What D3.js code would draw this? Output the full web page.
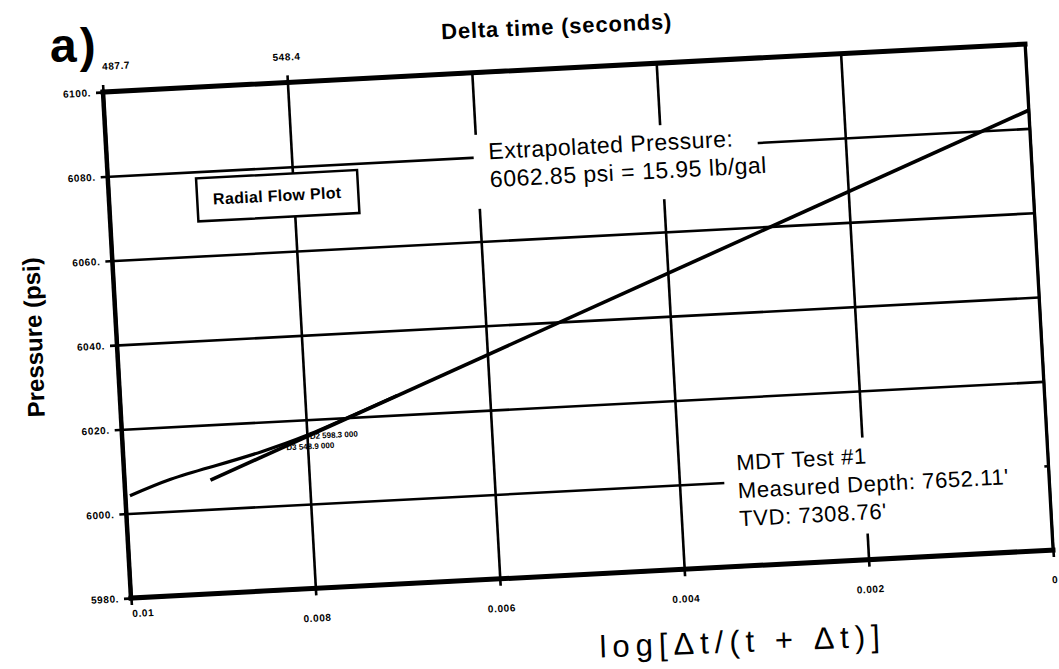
<!DOCTYPE html>
<html>
<head>
<meta charset="utf-8">
<script src="https://cdn.jsdelivr.net/npm/d3@7"></script>
<style>
  body { margin: 0; background: #fff; }
  svg { display: block; }
  text { font-family: "Liberation Sans", Arial, sans-serif; fill: #000; }
</style>
</head>
<body>
<svg id="chart" width="1059" height="669"></svg>
<script>
// axis ticks (log[dt/(t+dt)] runs from 0.01 on the left to 0 on the right)
const xTicks = [0.01, 0.008, 0.006, 0.004, 0.002, 0];
const xTickLabels = ['0.01', '0.008', '0.006', '0.004', '0.002', '0'];
const yTicks = [5980, 6000, 6020, 6040, 6060, 6080, 6100];
const yTickLabels = ['5980.', '6000.', '6020.', '6040.', '6060.', '6080.', '6100.'];
const topTicks = [0.01, 0.008];
const topTickLabels = ['487.7', '548.4'];

// measured buildup points
const dataX = [0.00995, 0.0095, 0.009, 0.0085, 0.008, 0.0075, 0.007];
const dataP = [6004.2, 6007.6, 6010.3, 6013.0, 6016.3, 6020.4, 6024.6];

// straight-line fit (radial flow)
const fitX = [0.00907, 0];
const fitP = [6006.9, 6084.3];

// small point tags
const tagX = [0.00797, 0.00823];
const tagP = [6015.4, 6013.0];
const tagText = ['D2  598.3   000', 'D3  548.9   000'];

const width = 1059, height = 669;
const W = 922, H = 506;

const svg = d3.select('#chart');
svg.append('rect').attr('width', width).attr('height', height).attr('fill', '#fff');

// the scanned page is tilted, so the plot sits in a slanted frame
const g = svg.append('g')
  .attr('transform', 'matrix(1,-0.052,0.0553,1,103,92)');

const x = d3.scaleLinear().domain([0.01, 0]).range([0, W]);
const y = d3.scaleLinear().domain([5980, 6100]).range([H, 0]);

const tickText = sel => sel.attr('font-size', '10px').attr('font-weight', 'bold')
  .attr('letter-spacing', '0.6px');

// horizontal grid + left labels
const yAxis = g.append('g')
  .attr('transform', `translate(${W},0)`)
  .call(d3.axisLeft(y).tickValues(yTicks).tickSize(W + 7).tickPadding(5)
    .tickFormat((d, i) => yTickLabels[i]));
yAxis.select('.domain').remove();
yAxis.selectAll('line').attr('stroke', '#000').attr('stroke-width', 2.6);
yAxis.selectAll('text').call(tickText);

// vertical grid + bottom labels
const xAxis = g.append('g')
  .call(d3.axisBottom(x).tickValues(xTicks).tickSize(H + 7).tickPadding(19)
    .tickFormat((d, i) => xTickLabels[i]));
xAxis.select('.domain').remove();
xAxis.selectAll('line').attr('stroke', '#000').attr('stroke-width', 2.6);
xAxis.selectAll('text').call(tickText);
xAxis.selectAll('text').filter(d => d === 0.01)
  .attr('text-anchor', 'start').attr('y', H + 12);

// top axis (delta time)
const topAxis = g.append('g')
  .call(d3.axisTop(x).tickValues(topTicks).tickSize(7).tickPadding(15)
    .tickFormat((d, i) => topTickLabels[i]));
topAxis.select('.domain').remove();
topAxis.selectAll('line').attr('stroke', '#000').attr('stroke-width', 2.6);
topAxis.selectAll('text').call(tickText);
topAxis.selectAll('text').filter(d => d === 0.01).attr('text-anchor', 'start');

// frame
const frame = [
  [0, 0, W, 0, 5], [0, H, W, H, 5], [0, 0, 0, H, 4.5], [W, 0, W, H, 3]
];
g.selectAll('line.frame').data(frame).enter().append('line')
  .attr('class', 'frame')
  .attr('x1', d => d[0]).attr('y1', d => d[1])
  .attr('x2', d => d[2]).attr('y2', d => d[3])
  .attr('stroke', '#000').attr('stroke-width', d => d[4])
  .attr('stroke-linecap', 'square');

// data curve and fit line
g.append('path')
  .datum(dataX.map((v, i) => [v, dataP[i]]))
  .attr('d', d3.line().x(d => x(d[0])).y(d => y(d[1])).curve(d3.curveNatural))
  .attr('fill', 'none').attr('stroke', '#000').attr('stroke-width', 3.2);
g.append('path')
  .datum(fitX.map((v, i) => [v, fitP[i]]))
  .attr('d', d3.line().x(d => x(d[0])).y(d => y(d[1])))
  .attr('fill', 'none').attr('stroke', '#000').attr('stroke-width', 3.6);

g.selectAll('text.tag').data(tagText).enter().append('text')
  .attr('class', 'tag')
  .attr('x', (d, i) => x(tagX[i]))
  .attr('y', (d, i) => y(tagP[i]))
  .attr('font-size', '8px').attr('font-weight', 'bold')
  .text(d => d);

// Radial Flow Plot box
g.append('rect')
  .attr('x', 88).attr('y', 91).attr('width', 161).attr('height', 43)
  .attr('fill', '#fff').attr('stroke', '#000').attr('stroke-width', 2.5);
g.append('text')
  .attr('x', 168).attr('y', 118).attr('text-anchor', 'middle')
  .attr('font-size', '16px').attr('font-weight', 'bold').attr('letter-spacing', '0.3px')
  .text('Radial Flow Plot');

// extrapolated pressure note
g.append('rect')
  .attr('x', 366).attr('y', 62).attr('width', 284).attr('height', 74)
  .attr('fill', '#fff');
g.append('text').attr('x', 381).attr('y', 87).attr('font-size', '23px')
  .attr('letter-spacing', '0.5px')
  .text('Extrapolated Pressure:');
g.append('text').attr('x', 381).attr('y', 115).attr('font-size', '23px')
  .attr('letter-spacing', '0.5px')
  .text('6062.85 psi = 15.95 lb/gal');

// test info note
g.append('rect')
  .attr('x', 598).attr('y', 384).attr('width', 320).attr('height', 96)
  .attr('fill', '#fff');
const info = ['MDT Test #1', "Measured Depth: 7652.11'", "TVD: 7308.76'"];
g.selectAll('text.info').data(info).enter().append('text')
  .attr('class', 'info')
  .attr('x', 611).attr('y', (d, i) => 410 + i * 28)
  .attr('font-size', '22px').attr('letter-spacing', '0.6px')
  .text(d => d);

// outer titles
svg.append('text').attr('x', 50).attr('y', 62)
  .attr('font-size', '48px').attr('font-weight', 'bold').attr('letter-spacing', '3px')
  .text('a)');
svg.append('text')
  .attr('transform', 'translate(557,34) rotate(-2.6)')
  .attr('text-anchor', 'middle').attr('font-size', '22px').attr('font-weight', 'bold')
  .attr('letter-spacing', '0.8px')
  .text('Delta time (seconds)');
svg.append('text')
  .attr('transform', 'translate(42,337) rotate(-92)')
  .attr('text-anchor', 'middle').attr('font-size', '24px').attr('font-weight', 'bold')
  .text('Pressure (psi)');
svg.append('text')
  .attr('transform', 'translate(743,652) rotate(-2.2)')
  .attr('text-anchor', 'middle').attr('font-size', '31px').attr('letter-spacing', '6px')
  .text('log[\u0394t/(t + \u0394t)]');
</script>
</body>
</html>
